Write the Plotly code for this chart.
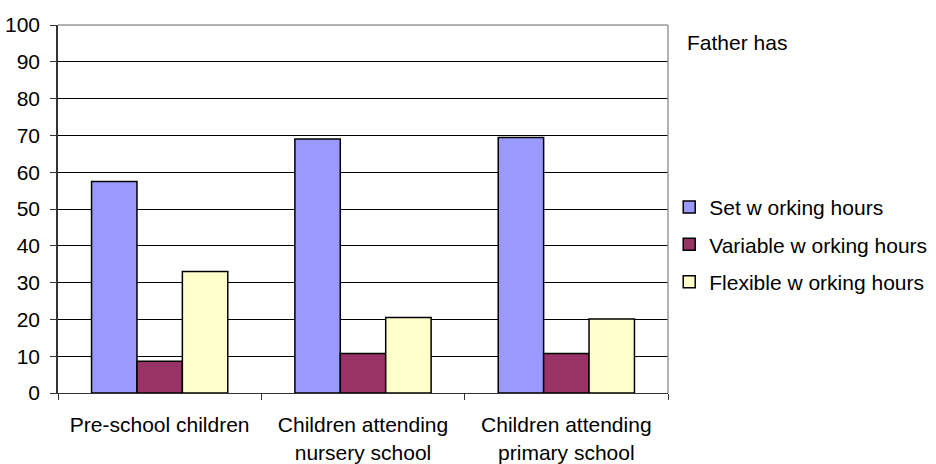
import plotly.graph_objects as go

categories = ["Pre-school children", "Children attending<br>nursery school", "Children attending<br>primary school"]
series_names = ["Set w orking hours", "Variable w orking hours", "Flexible w orking hours"]
set_hours = [57.5, 69.0, 69.4]
variable_hours = [8.6, 10.7, 10.7]
flexible_hours = [33.0, 20.5, 20.1]
colors = ["#9999FF", "#993366", "#FFFFCC"]
y_ticks = [0, 10, 20, 30, 40, 50, 60, 70, 80, 90, 100]

FONT = "Liberation Sans, Arial, sans-serif"
FS = 21

fig = go.Figure()
for i, (name, vals) in enumerate(zip(series_names, [set_hours, variable_hours, flexible_hours])):
    fig.add_trace(go.Bar(
        x=categories, y=vals, name=name, legendgroup=name,
        marker=dict(color=colors[i], line=dict(color="#000000", width=1.5)),
    ))

fig.update_layout(
    width=936, height=464,
    margin=dict(l=58, r=268, t=25, b=71, autoexpand=False),
    paper_bgcolor="white", plot_bgcolor="white",
    font=dict(family=FONT, size=FS, color="#000000"),
    barmode="group", bargap=0.33, bargroupgap=0,
    showlegend=True,
    legend=dict(x=1.002, xanchor="left", y=0.56, yanchor="top",
                traceorder="grouped", tracegroupgap=7,
                font=dict(family=FONT, size=FS, color="#000000"),
                bgcolor="rgba(0,0,0,0)"),
    xaxis=dict(showline=True, linecolor="#333333", linewidth=1,
               ticks="outside", ticklen=6, tickcolor="#333333",
               tickson="boundaries", ticklabelstandoff=13, showgrid=False,
               automargin=False),
    yaxis=dict(range=[0, 100], tickvals=y_ticks, showline=True, linecolor="#333333",
               linewidth=1.5, ticks="outside", ticklen=6, tickcolor="#333333",
               showgrid=True, gridcolor="#000000", gridwidth=1,
               ticklabelstandoff=6, zeroline=False, automargin=False),
    shapes=[
        dict(type="line", xref="paper", yref="paper", x0=0, x1=1, y0=1, y1=1,
             line=dict(color="#999999", width=1.5), layer="above"),
        dict(type="line", xref="paper", yref="paper", x0=1, x1=1, y0=0, y1=1,
             line=dict(color="#999999", width=1.5), layer="above"),
    ],
    annotations=[
        dict(text="Father has", xref="paper", yref="paper", x=1.028, y=0.953,
             xanchor="left", yanchor="middle", showarrow=False,
             font=dict(family=FONT, size=FS, color="#000000")),
    ],
)

fig.write_html("out.html")
